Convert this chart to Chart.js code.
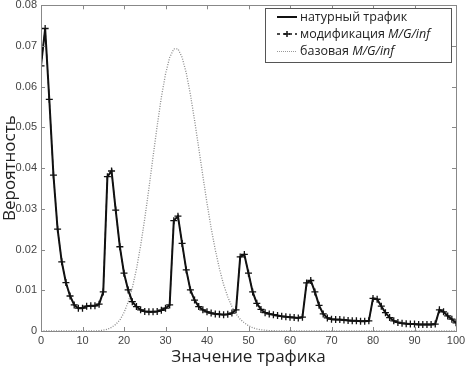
<!DOCTYPE html>
<html>
<head>
<meta charset="utf-8">
<script src="https://cdn.jsdelivr.net/npm/chart.js@4"></script>
<style>
  html, body { margin: 0; padding: 0; background: #fff; }
  #wrap { width: 465px; height: 368px; }
</style>
</head>
<body>
<div id="wrap"><canvas id="myChart" width="465" height="368"></canvas></div>
<script>
// значения трафика (ось X)
var trafficValues = [
    0, 1, 2, 3, 4, 5, 6, 7, 8, 9,
    10, 11, 12, 13, 14, 15, 16, 17, 18, 19,
    20, 21, 22, 23, 24, 25, 26, 27, 28, 29,
    30, 31, 32, 33, 34, 35, 36, 37, 38, 39,
    40, 41, 42, 43, 44, 45, 46, 47, 48, 49,
    50, 51, 52, 53, 54, 55, 56, 57, 58, 59,
    60, 61, 62, 63, 64, 65, 66, 67, 68, 69,
    70, 71, 72, 73, 74, 75, 76, 77, 78, 79,
    80, 81, 82, 83, 84, 85, 86, 87, 88, 89,
    90, 91, 92, 93, 94, 95, 96, 97, 98, 99,
    100
];

// натурный трафик
var naturData = [
    0.0651, 0.0743, 0.0569, 0.0383, 0.0250, 0.0170, 0.0119, 0.0086, 0.0064, 0.0056,
    0.0056, 0.0061, 0.0062, 0.0062, 0.0066, 0.0096, 0.0379, 0.0393, 0.0297, 0.0207,
    0.0142, 0.0101, 0.0072, 0.0060, 0.0052, 0.0048, 0.0047, 0.0047, 0.0048, 0.0051,
    0.0056, 0.0064, 0.0271, 0.0282, 0.0215, 0.0150, 0.0101, 0.0076, 0.0060, 0.0052,
    0.0047, 0.0044, 0.0042, 0.0041, 0.0040, 0.0041, 0.0044, 0.0052, 0.0182, 0.0188,
    0.0142, 0.0096, 0.0068, 0.0053, 0.0045, 0.0042, 0.0040, 0.0038, 0.0036, 0.0035,
    0.0034, 0.0033, 0.0032, 0.0034, 0.0118, 0.0124, 0.0096, 0.0063, 0.0042, 0.0032,
    0.0029, 0.0028, 0.0028, 0.0027, 0.0026, 0.0025, 0.0025, 0.0024, 0.0024, 0.0025,
    0.0080, 0.0078, 0.0061, 0.0045, 0.0033, 0.0025, 0.0021, 0.0019, 0.0018, 0.0017,
    0.0017, 0.0016, 0.0016, 0.0016, 0.0016, 0.0017, 0.0052, 0.0047, 0.0037, 0.0029,
    0.0020
];

// модификация M/G/inf
var modifData = [
    0.0651, 0.0743, 0.0569, 0.0383, 0.0250, 0.0170, 0.0119, 0.0086, 0.0064, 0.0056,
    0.0056, 0.0061, 0.0062, 0.0062, 0.0066, 0.0096, 0.0379, 0.0393, 0.0297, 0.0207,
    0.0142, 0.0101, 0.0072, 0.0060, 0.0052, 0.0048, 0.0047, 0.0047, 0.0048, 0.0051,
    0.0056, 0.0064, 0.0271, 0.0282, 0.0215, 0.0150, 0.0101, 0.0076, 0.0060, 0.0052,
    0.0047, 0.0044, 0.0042, 0.0041, 0.0040, 0.0041, 0.0044, 0.0052, 0.0182, 0.0188,
    0.0142, 0.0096, 0.0068, 0.0053, 0.0045, 0.0042, 0.0040, 0.0038, 0.0036, 0.0035,
    0.0034, 0.0033, 0.0032, 0.0034, 0.0118, 0.0124, 0.0096, 0.0063, 0.0042, 0.0032,
    0.0029, 0.0028, 0.0028, 0.0027, 0.0026, 0.0025, 0.0025, 0.0024, 0.0024, 0.0025,
    0.0080, 0.0078, 0.0061, 0.0045, 0.0033, 0.0025, 0.0021, 0.0019, 0.0018, 0.0017,
    0.0017, 0.0016, 0.0016, 0.0016, 0.0016, 0.0017, 0.0052, 0.0047, 0.0037, 0.0029,
    0.0020
];

// базовая M/G/inf
var baseData = [
    0, 0, 0, 0, 0, 0, 0, 0, 0, 0,
    0, 0, 0, 0, 0.0001, 0.0002, 0.0004, 0.0009, 0.0016, 0.0027,
    0.0045, 0.0071, 0.0106, 0.0152, 0.0209, 0.0276, 0.0350, 0.0428, 0.0504, 0.0574,
    0.0631, 0.0672, 0.0693, 0.0693, 0.0672, 0.0634, 0.0581, 0.0518, 0.0450, 0.0381,
    0.0314, 0.0253, 0.0199, 0.0153, 0.0114, 0.0084, 0.0060, 0.0042, 0.0029, 0.0020,
    0.0013, 0.0008, 0.0005, 0.0003, 0.0002, 0.0001, 0.0001, 0, 0, 0,
    0, 0, 0, 0, 0, 0, 0, 0, 0, 0,
    0, 0, 0, 0, 0, 0, 0, 0, 0, 0,
    0, 0, 0, 0, 0, 0, 0, 0, 0, 0,
    0, 0, 0, 0, 0, 0, 0, 0, 0, 0,
    0
];

var xTicks = [0, 10, 20, 30, 40, 50, 60, 70, 80, 90, 100];
var yTicks = [0, 0.01, 0.02, 0.03, 0.04, 0.05, 0.06, 0.07, 0.08];

var legendItems = [
    { text: 'натурный трафик', italic: '' },
    { text: 'модификация ', italic: 'M/G/inf' },
    { text: 'базовая ', italic: 'M/G/inf' }
];

function toPoints(values){
    return values.map((v, i) => ({ x: trafficValues[i], y: v }));
}

// рамка + засечки внутрь, как в matlab
var boxPlugin = {
    id: 'boxPlugin',
    afterDraw(chart){
        const ctx = chart.ctx;
        const a = chart.chartArea;
        const xs = chart.scales.x;
        const ys = chart.scales.y;
        ctx.save();
        ctx.strokeStyle = '#888';
        ctx.lineWidth = 1;
        ctx.strokeRect(Math.round(a.left) + 0.5, Math.round(a.top) + 0.5,
            Math.round(a.right - a.left), Math.round(a.bottom - a.top));
        ctx.beginPath();
        xTicks.forEach(t => {
            const px = Math.round(xs.getPixelForValue(t)) + 0.5;
            ctx.moveTo(px, a.bottom); ctx.lineTo(px, a.bottom - 4);
            ctx.moveTo(px, a.top); ctx.lineTo(px, a.top + 4);
        });
        yTicks.forEach(t => {
            const py = Math.round(ys.getPixelForValue(t)) + 0.5;
            ctx.moveTo(a.left, py); ctx.lineTo(a.left + 4, py);
            ctx.moveTo(a.right, py); ctx.lineTo(a.right - 4, py);
        });
        ctx.stroke();

        // легенда
        const lx = 265, ly = 8, lw = 186, lh = 54;
        ctx.fillStyle = '#fff';
        ctx.fillRect(lx, ly, lw, lh);
        ctx.strokeStyle = '#555';
        ctx.strokeRect(lx + 0.5, ly + 0.5, lw, lh);
        const rows = [17, 34, 51];
        ctx.textBaseline = 'middle';
        legendItems.forEach((item, i) => {
            const y = rows[i];
            ctx.save();
            if(i == 0){
                ctx.strokeStyle = '#111'; ctx.lineWidth = 2;
                ctx.beginPath(); ctx.moveTo(277, y); ctx.lineTo(297, y); ctx.stroke();
            }
            if(i == 1){
                ctx.strokeStyle = '#111'; ctx.lineWidth = 1.5;
                ctx.setLineDash([3, 3]);
                ctx.beginPath(); ctx.moveTo(277, y); ctx.lineTo(297, y); ctx.stroke();
                ctx.setLineDash([]);
                ctx.beginPath();
                ctx.moveTo(284, y); ctx.lineTo(290, y);
                ctx.moveTo(287, y - 3); ctx.lineTo(287, y + 3);
                ctx.stroke();
            }
            if(i == 2){
                ctx.strokeStyle = '#999'; ctx.lineWidth = 1;
                ctx.setLineDash([1, 1]);
                ctx.beginPath(); ctx.moveTo(277, y + 0.5); ctx.lineTo(297, y + 0.5); ctx.stroke();
            }
            ctx.restore();
            ctx.fillStyle = '#222';
            ctx.font = '12.5px "Open Sans"';
            ctx.fillText(item.text, 300, y);
            if(item.italic){
                const w = ctx.measureText(item.text).width;
                ctx.font = 'italic 12.5px "Open Sans"';
                ctx.fillText(item.italic, 300 + w, y);
            }
        });
        ctx.restore();
    }
};

var ctx = document.getElementById('myChart').getContext('2d');
var myChart = new Chart(ctx, {
    type: 'line',
    data: {
        datasets: [{
            label: 'натурный трафик',
            data: toPoints(naturData),
            borderColor: '#111',
            borderWidth: 2,
            pointRadius: 0,
            tension: 0,
            fill: false
        }, {
            label: 'модификация M/G/inf',
            data: toPoints(modifData),
            borderColor: '#111',
            borderWidth: 1,
            borderDash: [4, 3],
            pointStyle: 'cross',
            pointRadius: 3.5,
            pointBorderWidth: 1.3,
            pointBorderColor: '#111',
            tension: 0,
            fill: false
        }, {
            label: 'базовая M/G/inf',
            data: toPoints(baseData),
            borderColor: '#8a8a8a',
            borderWidth: 1.3,
            borderDash: [1, 1.5],
            pointRadius: 0,
            tension: 0,
            fill: false
        }]
    },
    plugins: [boxPlugin],
    options: {
        responsive: false,
        animation: false,
        layout: { padding: 0 },
        plugins: {
            legend: { display: false },
            tooltip: { enabled: false }
        },
        scales: {
            x: {
                type: 'linear',
                min: 0,
                max: 100,
                grid: { display: false, drawTicks: false, tickLength: 0 },
                border: { display: false },
                afterBuildTicks: scale => { scale.ticks = xTicks.map(v => ({ value: v })); },
                afterFit: scale => {
                    scale.height = 37;
                    scale.paddingLeft = 0;
                    scale.paddingRight = 9;
                },
                ticks: {
                    padding: 3,
                    color: '#444',
                    font: { family: '"Liberation Sans", Arial', size: 11 },
                    maxRotation: 0
                },
                title: {
                    display: true,
                    text: 'Значение трафика',
                    color: '#222',
                    font: { family: '"Open Sans"', size: 17 },
                    padding: { top: 0, bottom: 1 }
                }
            },
            y: {
                min: 0,
                max: 0.08,
                grid: { display: false, drawTicks: false, tickLength: 0 },
                border: { display: false },
                afterBuildTicks: scale => { scale.ticks = yTicks.map(v => ({ value: v })); },
                afterFit: scale => {
                    scale.width = 41;
                    scale.paddingTop = 5;
                    scale.paddingBottom = 0;
                },
                ticks: {
                    padding: 4,
                    color: '#444',
                    font: { family: '"Liberation Sans", Arial', size: 11 },
                    callback: v => String(v)
                },
                title: {
                    display: true,
                    text: 'Вероятность',
                    color: '#222',
                    font: { family: '"Open Sans"', size: 17 },
                    padding: { top: 0, bottom: 0 }
                }
            }
        }
    }
});
</script>
</body>
</html>
